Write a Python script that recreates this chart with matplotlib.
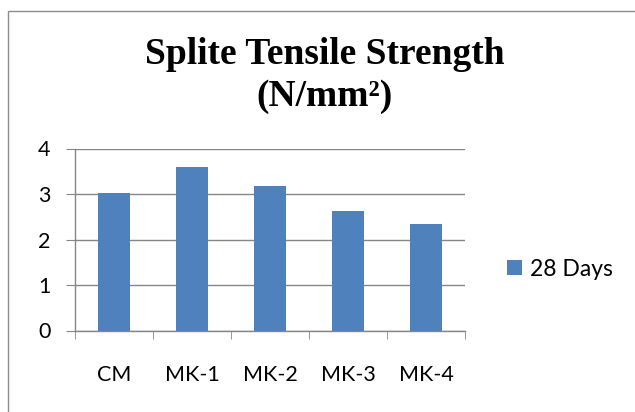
import matplotlib.pyplot as plt
from matplotlib.patches import Rectangle

categories = ["CM", "MK-1", "MK-2", "MK-3", "MK-4"]
days_28 = [3.03, 3.59, 3.18, 2.62, 2.35]
series_name = "28 Days"

bar_color = "#4F81BD"
grid_color = "#868686"

fig = plt.figure(figsize=(6.35, 4.12), dpi=100)
ax = fig.add_axes([75 / 635, 1 - 330.5 / 412, 390 / 635, 182 / 412])

x = range(len(categories))
ax.bar(x, days_28, width=0.4, color=bar_color, label=series_name, zorder=3)

ax.set_xlim(-0.5, len(categories) - 0.5)
ax.set_ylim(0, 4)
ax.set_yticks([0, 1, 2, 3, 4])
ax.set_xticks(list(x))
ax.set_xticklabels(categories)
ax.set_xticks([i - 0.5 for i in range(len(categories) + 1)], minor=True)

ax.grid(axis="y", color=grid_color, linewidth=1, zorder=0)
for side in ["top", "right"]:
    ax.spines[side].set_visible(False)
for side in ["left", "bottom"]:
    ax.spines[side].set_color(grid_color)
    ax.spines[side].set_linewidth(1)

ax.tick_params(axis="x", which="major", length=0, pad=25, labelsize=15.5)
ax.tick_params(axis="x", which="minor", length=6, color=grid_color, direction="out")
ax.tick_params(axis="y", length=6.5, color=grid_color, pad=11, labelsize=15.5)
for lbl in ax.get_xticklabels() + ax.get_yticklabels():
    lbl.set_fontfamily("Lato")

# title in two lines, like the original chart
fig.text(0.511, 1 - 55 / 412, "Splite Tensile Strength", ha="center", va="center",
         fontsize=27, fontweight="bold", family="Liberation Serif")
fig.text(0.511, 1 - 97 / 412, "(N/mm²)", ha="center", va="center",
         fontsize=27, fontweight="bold", family="Liberation Serif")

leg = fig.legend(loc="center left", bbox_to_anchor=(507 / 635, 1 - 269 / 412), frameon=False,
                 prop={"family": "Lato", "size": 16.5}, handlelength=0.65, handleheight=0.65,
                 handletextpad=0.35, borderpad=0, borderaxespad=0)

# outer chart border
fig.patches.append(Rectangle((8 / 635, -0.1), 1.2, 1 - 10.5 / 412 + 0.1, transform=fig.transFigure,
                             fill=False, edgecolor="#8c8c8c", linewidth=1))

fig.savefig("out.png", dpi=100)
